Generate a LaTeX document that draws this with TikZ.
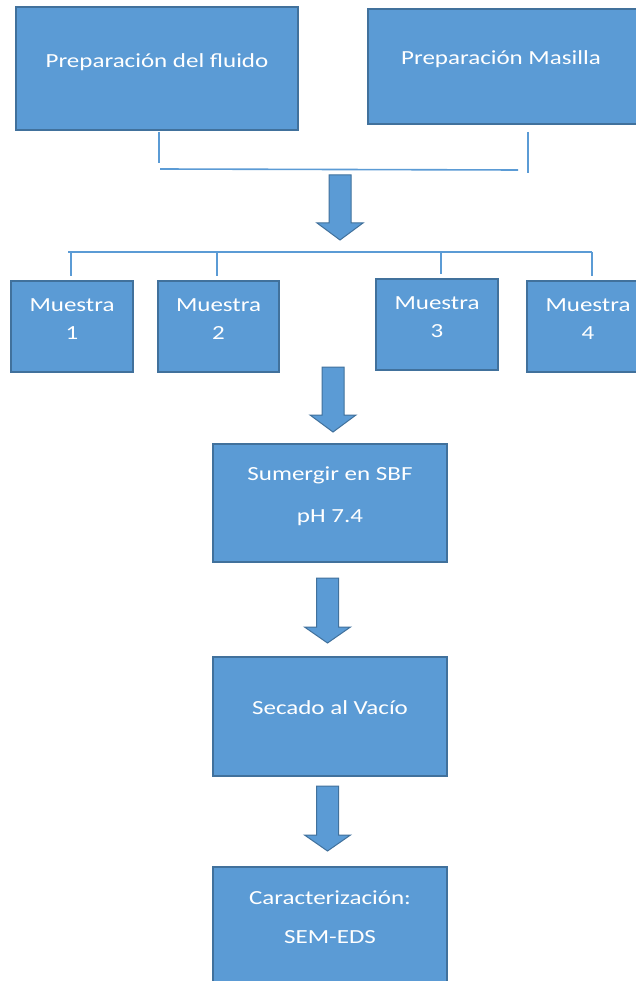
\documentclass[tikz,border=0pt]{standalone}
\usepackage{fontspec}
\newfontfamily\boxfont[FakeStretch=1.25]{Carlito}
\definecolor{boxfill}{HTML}{5B9BD5}
\definecolor{boxline}{HTML}{41719C}
\definecolor{connline}{HTML}{5B9BD5}
\tikzset{
  stepbox/.style={rectangle, draw=boxline, line width=1.3pt, fill=boxfill, inner sep=0pt},
  lbl/.style={text=white, font=\boxfont\fontsize{20}{28}\selectfont, align=center, inner sep=0pt},
  conn/.style={draw=connline, line width=1.6pt},
  blk/.style={fill=boxfill, draw=boxline, line width=1pt, line join=miter}
}
% block arrow: centre x, shaft top y, head base y, tip y (all in px, downward positive)
\newcommand{\blockarrow}[4]{%
  \path[blk] (#1-11,-#2) -- (#1+11,-#2) -- (#1+11,-#3) -- (#1+23,-#3) -- (#1,-#4) -- (#1-23,-#3) -- (#1-11,-#3) -- cycle;}
\begin{document}
\begin{tikzpicture}[x=1pt,y=1pt]
\path[use as bounding box, clip] (0,0) rectangle (636,-981);
\fill[white] (0,0) rectangle (636,-981);

% top boxes
\node[stepbox, minimum width=282pt, minimum height=123pt] (b1) at (157,-68.5) {};
\node[lbl] (t1) at (157,-62) {Preparación del fluido};
\node[stepbox, minimum width=322pt, minimum height=115pt] (b2) at (529,-66.5) {};
\node[lbl] (t2) at (501,-59) {Preparación Masilla};

% join connector
\coordinate (j1) at (159,-132);
\coordinate (j2) at (528,-132);
\coordinate (jh1) at (160,-169);
\coordinate (jh2) at (518,-170);
\draw[conn] (j1) -- (159,-163);
\draw[conn] (j2) -- (528,-173);
\draw[conn] (jh1) -- (jh2);

\blockarrow{340}{175}{223}{240}

% samples bar
\coordinate (bar0) at (68,-252);
\coordinate (bar1) at (71,-252);
\coordinate (bar2) at (217,-252);
\coordinate (bar3) at (441,-252);
\coordinate (bar4) at (592,-252);

\node[stepbox, minimum width=122pt, minimum height=91pt] (m1) at (72,-326.5) {};
\node[lbl] (mt1) at (72,-319) {Muestra\\1};
\node[stepbox, minimum width=121pt, minimum height=91pt] (m2) at (218.5,-326.5) {};
\node[lbl] (mt2) at (218.5,-319) {Muestra\\2};
\node[stepbox, minimum width=122pt, minimum height=91pt] (m3) at (437,-324.5) {};
\node[lbl] (mt3) at (437,-317) {Muestra\\3};
\node[stepbox, minimum width=122pt, minimum height=91pt] (m4) at (588,-326.5) {};
\node[lbl] (mt4) at (588,-319) {Muestra\\4};

\draw[conn] (bar0) -- (bar4);
\draw[conn] (bar1) -- ([yshift=4pt]bar1 |- m1.north);
\draw[conn] (bar2) -- ([yshift=4pt]bar2 |- m2.north);
\draw[conn] (bar3) -- ([yshift=4pt]bar3 |- m3.north);
\draw[conn] (bar4) -- ([yshift=4pt]bar4 |- m4.north);

\blockarrow{333}{367}{415}{432}

% process chain
\node[stepbox, minimum width=234pt, minimum height=118pt] (s1) at (330,-503) {};
\node[lbl, font=\boxfont\fontsize{20}{42}\selectfont] (st1) at (330,-496) {Sumergir en SBF\\pH 7.4};

\blockarrow{327.5}{578}{627}{643}

\node[stepbox, minimum width=234pt, minimum height=119pt] (s2) at (330,-716.5) {};
\node[lbl] (st2) at (330,-708) {Secado al Vacío};

\blockarrow{327.5}{786}{835}{851}

\node[stepbox, minimum width=234pt, minimum height=118pt] (s3) at (330,-926) {};
\node[lbl, font=\boxfont\fontsize{20}{39}\selectfont] (st3) at (330,-917.5) {Caracterización:\\SEM-EDS};
\end{tikzpicture}
\end{document}
